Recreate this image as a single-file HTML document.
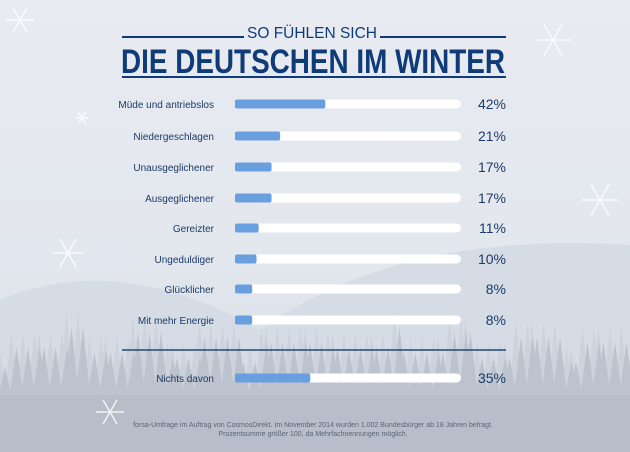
<!DOCTYPE html>
<html><head><meta charset="utf-8">
<style>
html,body{margin:0;padding:0}
body{width:630px;height:452px;overflow:hidden;font-family:"Liberation Sans",sans-serif}
#c{position:absolute;left:0;top:0}
</style></head>
<body>
<svg id="c" width="630" height="452" viewBox="0 0 630 452" xmlns="http://www.w3.org/2000/svg">
<defs>
<linearGradient id="bg" x1="0" y1="0" x2="0" y2="1">
<stop offset="0" stop-color="#e8ebf1"/><stop offset="0.55" stop-color="#e3e7ee"/><stop offset="1" stop-color="#d6dbe3"/>
</linearGradient>
</defs>
<rect width="630" height="452" fill="url(#bg)"/>
<path d="M0 300 Q120 250 260 330 Q400 230 630 245 L630 452 L0 452Z" fill="#d6dce5"/>
<g id="trees"></g>
<rect x="0" y="395" width="630" height="57" fill="#b7bec9"/>
<g id="snow"></g>

<g fill="#0f3c78">
<line x1="122" y1="37" x2="244" y2="37" stroke="#0f3c78" stroke-width="2"/>
<line x1="380" y1="37" x2="506" y2="37" stroke="#0f3c78" stroke-width="2"/>
<text x="312" y="38" text-anchor="middle" font-size="16" textLength="130" lengthAdjust="spacingAndGlyphs">SO FÜHLEN SICH</text>
<text x="313" y="73" text-anchor="middle" font-size="34" font-weight="bold" textLength="384" lengthAdjust="spacingAndGlyphs">DIE DEUTSCHEN IM WINTER</text>
<line x1="122" y1="77" x2="506" y2="77" stroke="#0f3c78" stroke-width="2"/>
</g>
<g id="bars"></g>
<line x1="122" y1="350" x2="506" y2="350" stroke="#27456f" stroke-width="1.5"/>
<g fill="#5a6573" font-size="7" text-anchor="middle">
<text x="313" y="427">forsa-Umfrage im Auftrag von CosmosDirekt. Im November 2014 wurden 1.002 Bundesbürger ab 18 Jahren befragt.</text>
<text x="313" y="436">Prozentsumme größer 100, da Mehrfachnennungen möglich.</text>
</g>
</svg>
<script>
const categories=["Müde und antriebslos","Niedergeschlagen","Unausgeglichener","Ausgeglichener","Gereizter","Ungeduldiger","Glücklicher","Mit mehr Energie","Nichts davon"];
const values=[42,21,17,17,11,10,8,8,35];
const rowY=[104,136,167,198,228,259,289,320,378];
const NS="http://www.w3.org/2000/svg";
function mk(t,a,p){const e=document.createElementNS(NS,t);for(const k in a)e.setAttribute(k,a[k]);p.appendChild(e);return e;}
const tg=document.getElementById('trees');
for(let L=0;L<2;L++){for(let i=0;i<70;i++){const x=i*9.5+L*5+((i*37)%7);const h=(L?35:50)+((i*53)%25);const base=402;
 const t=mk('polygon',{points:`${x},${base-h-((i*17)%20)} ${x-8},${base} ${x+8},${base}`,fill:L?'#bcc3ce':'#cdd3dc'},tg);
 }}
const sg=document.getElementById('snow');
[[20,20,14],[553,40,18],[600,200,18],[68,253,16],[82,118,7],[110,412,14]].forEach(s=>{
 const g=mk('g',{stroke:'#fff','stroke-width':1.5,opacity:0.8},sg);
 
 for(let a=0;a<3;a++){const r=a*Math.PI/3;mk('line',{x1:s[0]-s[2]*Math.cos(r),y1:s[1]-s[2]*Math.sin(r),x2:s[0]+s[2]*Math.cos(r),y2:s[1]+s[2]*Math.sin(r)},g);}
});
const bg=document.getElementById('bars');
const x0=235,trackW=226,scale=v=>v/100*215;
categories.forEach((c,i)=>{const y=rowY[i];
 const g=mk('g',{},bg);
 const l=mk('text',{x:214,y:y+4,'text-anchor':'end','font-size':10,fill:'#1d3a66'},g);l.textContent=c;
 
 const tr=mk('rect',{x:x0,y:y-4.5,width:trackW,height:9,rx:4.5,fill:'#ffffff'},g);
 
 const b=mk('rect',{x:x0,y:y-4.5,width:scale(values[i]),height:9,rx:2,fill:'#6a9fdf'},g);
 
 const p=mk('text',{x:506,y:y+5,'text-anchor':'end','font-size':14,fill:'#1d3a66'},g);p.textContent=values[i]+'%';
 
});
</script>
</body></html>
